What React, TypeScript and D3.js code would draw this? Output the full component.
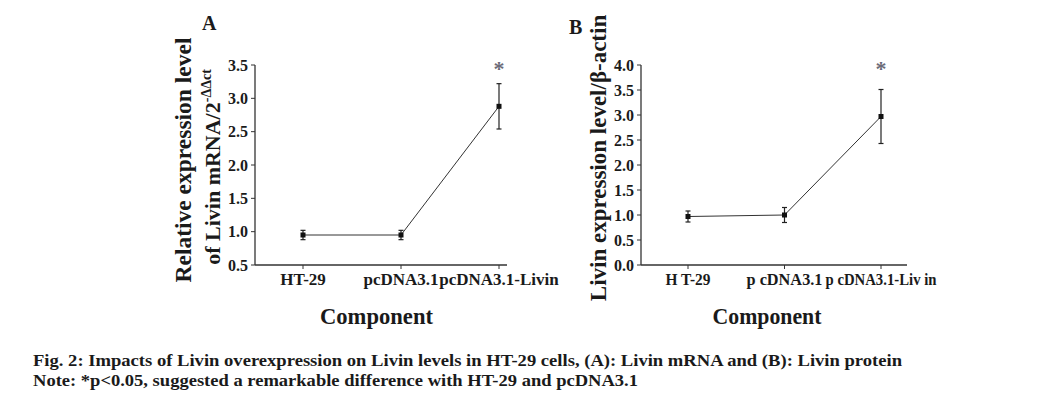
import React from "react";
import * as d3 from "d3";

const categoriesA = ["HT-29", "pcDNA3.1", "pcDNA3.1-Livin"];
const meanA = [0.95, 0.95, 2.88];
const errA = [0.07, 0.07, 0.34];
const ticksA = [0.5, 1.0, 1.5, 2.0, 2.5, 3.0, 3.5];

const categoriesB = ["HT-29", "pcDNA3.1", "pcDNA3.1-Livin"];
const catLabelsB = ["H T-29", "p cDNA3.1", "p cDNA3.1-Liv in"];
const meanB = [0.97, 1.0, 2.97];
const errB = [0.11, 0.15, 0.54];
const ticksB = [0.0, 0.5, 1.0, 1.5, 2.0, 2.5, 3.0, 3.5, 4.0];

const FONT = "'Liberation Serif', 'Times New Roman', serif";
const INK = "#1a1a1a";

type PanelProps = {
  letter: string;
  letterX: number;
  letterY: number;
  cats: string[];
  labels: string[];
  labelLengths?: number[];
  mean: number[];
  err: number[];
  ticks: number[];
  yDomain: [number, number];
  yTop: number;
  yBottom: number;
  axisLeft: number;
  axisRight: number;
  firstX: number;
  lastX: number;
  yLabel: React.ReactNode;
  compX: number;
  compLen: number;
};

function Panel(p: PanelProps) {
  const x = d3.scalePoint<string>().domain(p.cats).range([p.firstX, p.lastX]);
  const y = d3.scaleLinear().domain(p.yDomain).range([p.yBottom, p.yTop]);
  const line = d3
    .line<number>()
    .x((_, i) => x(p.cats[i]) as number)
    .y((d) => y(d));
  const fmt = d3.format(".1f");
  return (
    <g>
      <text x={p.letterX} y={p.letterY} fontFamily={FONT} fontWeight="bold" fontSize={20} fill={INK}>
        {p.letter}
      </text>
      <line x1={p.axisLeft} x2={p.axisLeft} y1={p.yTop} y2={p.yBottom} stroke="#333" strokeWidth={1.3} />
      <line x1={p.axisLeft} x2={p.axisRight} y1={p.yBottom} y2={p.yBottom} stroke="#333" strokeWidth={1.3} />
      {p.ticks.map((t) => (
        <g key={t}>
          <line x1={p.axisLeft - 4} x2={p.axisLeft} y1={y(t)} y2={y(t)} stroke="#333" strokeWidth={1} />
          <text
            x={p.axisLeft - 7}
            y={y(t)}
            dy="0.35em"
            textAnchor="end"
            fontFamily={FONT}
            fontWeight="bold"
            fontSize={16}
            fill={INK}
          >
            {fmt(t)}
          </text>
        </g>
      ))}
      {p.cats.map((c) => (
        <line key={c} x1={x(c)} x2={x(c)} y1={p.yBottom} y2={p.yBottom + 4} stroke="#333" strokeWidth={1} />
      ))}
      {p.labels.map((l, i) => {
        const cx = x(p.cats[i]) as number;
        const extra = p.labelLengths
          ? { textLength: p.labelLengths[i], lengthAdjust: "spacingAndGlyphs" }
          : {};
        return (
          <text
            key={l}
            x={p.labelLengths ? cx - p.labelLengths[i] / 2 : cx}
            y={p.yBottom + 20}
            textAnchor={p.labelLengths ? "start" : "middle"}
            fontFamily={FONT}
            fontWeight="bold"
            fontSize={17}
            fill={INK}
            {...(extra as any)}
          >
            {l}
          </text>
        );
      })}
      <text
        x={p.compX - p.compLen / 2}
        y={p.yBottom + 59}
        fontFamily={FONT}
        fontWeight="bold"
        fontSize={22.5}
        fill={INK}
        textLength={p.compLen}
        lengthAdjust="spacingAndGlyphs"
      >
        Component
      </text>
      {p.yLabel}
      <path d={line(p.mean) || ""} fill="none" stroke="#333" strokeWidth={1} />
      {p.mean.map((m, i) => {
        const cx = x(p.cats[i]) as number;
        const e = p.err[i];
        return (
          <g key={i}>
            <line x1={cx} x2={cx} y1={y(m + e)} y2={y(m - e)} stroke="#222" strokeWidth={1.2} />
            <line x1={cx - 2.5} x2={cx + 2.5} y1={y(m + e)} y2={y(m + e)} stroke="#222" strokeWidth={1.2} />
            <line x1={cx - 2.5} x2={cx + 2.5} y1={y(m - e)} y2={y(m - e)} stroke="#222" strokeWidth={1.2} />
            <rect x={cx - 2.5} y={y(m) - 2.5} width={5} height={5} fill="#111" />
          </g>
        );
      })}
      <text
        x={x(p.cats[2]) as number}
        y={p.yTop + 11}
        textAnchor="middle"
        fontFamily={FONT}
        fontWeight="bold"
        fontSize={22}
        fill="#6b6b78"
      >
        *
      </text>
    </g>
  );
}

export default function App() {
  const yLabelA = (
    <g>
      <text
        transform="translate(191,160) rotate(-90)"
        textAnchor="middle"
        fontFamily={FONT}
        fontWeight="bold"
        fontSize={23.5}
        fill={INK}
      >
        Relative expression level
      </text>
      <text
        transform="translate(220,167) rotate(-90)"
        textAnchor="middle"
        fontFamily={FONT}
        fontWeight="bold"
        fontSize={22}
        fill={INK}
      >
        of Livin mRNA/2
        <tspan fontSize={14} dy={-9}>
          -ΔΔct
        </tspan>
      </text>
    </g>
  );
  const yLabelB = (
    <text
      transform="translate(606,158) rotate(-90)"
      textAnchor="middle"
      fontFamily={FONT}
      fontWeight="bold"
      fontSize={23}
      fill={INK}
    >
      Livin expression level/β-actin
    </text>
  );
  return (
    <svg width={1054} height={396} style={{ position: "absolute", left: 0, top: 0, background: "#fff" }}>
      <rect width={1054} height={396} fill="#fff" />
      <Panel
        letter="A"
        letterX={202}
        letterY={30}
        cats={categoriesA}
        labels={categoriesA}
        mean={meanA}
        err={errA}
        ticks={ticksA}
        yDomain={[0.5, 3.5]}
        yTop={65}
        yBottom={265}
        axisLeft={255}
        axisRight={507}
        firstX={303}
        lastX={499}
        yLabel={yLabelA}
        compX={376.5}
        compLen={113}
      />
      <Panel
        letter="B"
        letterX={569}
        letterY={34}
        cats={categoriesB}
        labels={catLabelsB}
        labelLengths={[45, 76, 111]}
        mean={meanB}
        err={errB}
        ticks={ticksB}
        yDomain={[0, 4]}
        yTop={65}
        yBottom={265}
        axisLeft={641}
        axisRight={907}
        firstX={688}
        lastX={881}
        yLabel={yLabelB}
        compX={767}
        compLen={109}
      />
      <text x={33} y={366} fontFamily={FONT} fontWeight="bold" fontSize={17} fill={INK} textLength={869} lengthAdjust="spacingAndGlyphs">
        Fig. 2: Impacts of Livin overexpression on Livin levels in HT-29 cells, (A): Livin mRNA and (B): Livin protein
      </text>
      <text x={33} y={386} fontFamily={FONT} fontWeight="bold" fontSize={17} fill={INK} textLength={605} lengthAdjust="spacingAndGlyphs">
        Note: *p&lt;0.05, suggested a remarkable difference with HT-29 and pcDNA3.1
      </text>
    </svg>
  );
}
